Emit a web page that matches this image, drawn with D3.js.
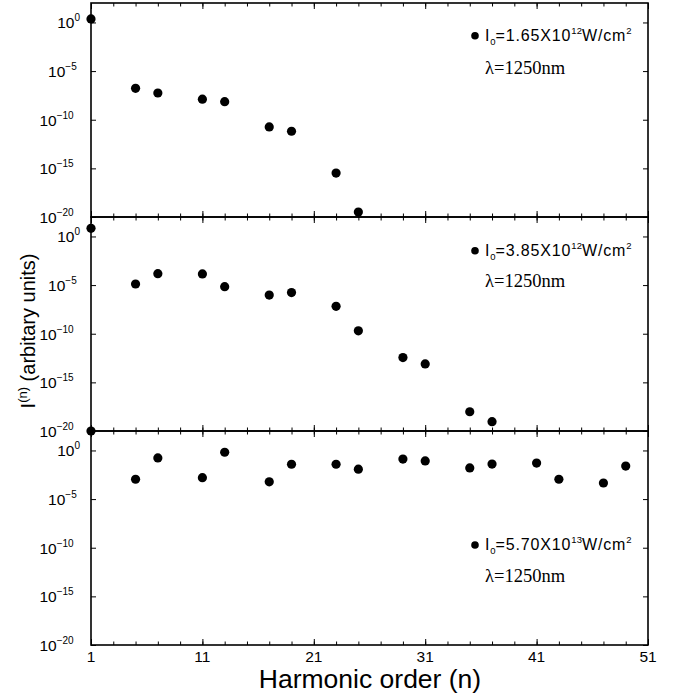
<!DOCTYPE html>
<html>
<head>
<meta charset="utf-8">
<script src="https://cdn.jsdelivr.net/npm/d3@7/dist/d3.min.js"></script>
<style>
  html, body { margin: 0; padding: 0; background: #fff; }
  svg { display: block; }
  text { font-family: "Liberation Sans", Arial, Helvetica, sans-serif; fill: #000; }
</style>
</head>
<body>
<svg id="chart" width="678" height="698"></svg>
<script>
// ---------- data ----------
const harmonicsA = [1, 5, 7, 11, 13, 17, 19, 23, 25];
const intensityA = [2.3e0, 1.7e-7, 5.6e-8, 1.3e-8, 7.2e-9, 1.8e-11, 6.5e-12, 3.3e-16, 3.2e-20];

const harmonicsB = [1, 5, 7, 11, 13, 17, 19, 23, 25, 29, 31, 35, 37];
const intensityB = [6.9e0, 1.3e-5, 1.5e-4, 1.4e-4, 6.9e-6, 9.5e-7, 1.7e-6, 6.6e-8, 2.0e-10, 3.5e-13, 7.8e-14, 9.5e-19, 9.1e-20];

const harmonicsC = [1, 5, 7, 11, 13, 17, 19, 23, 25, 29, 31, 35, 37, 41, 43, 47, 49];
const intensityC = [1e2, 1.1e-3, 1.7e-1, 1.6e-3, 6.5e-1, 6.0e-4, 3.8e-2, 3.8e-2, 1.2e-2, 1.3e-1, 8.3e-2, 1.6e-2, 4.0e-2, 5.1e-2, 1.1e-3, 4.5e-4, 2.5e-2];

const peakIntensity = ["1.65", "3.85", "5.70"];
const peakExponent = ["12", "12", "13"];
const wavelengthLabel = "λ=1250nm";

const xMajorTicks = [1, 11, 21, 31, 41, 51];
const xMinorTicks = d3.range(1, 52, 2);
const yTickValues = [1e0, 1e-5, 1e-10, 1e-15, 1e-20];
const yTickExponents = ["0", "−5", "−10", "−15", "−20"];

const xTitle = "Harmonic order (n)";
const yTitleMain = "I";
const yTitleSup = "(n)";
const yTitleRest = " (arbitary units)";

// ---------- layout ----------
const svg = d3.select("#chart");
const left = 91, right = 648;
const panelTop = 3, panelH = 214;
const x = d3.scaleLinear().domain([1, 51]).range([left, right]);

const panels = [
  { n: harmonicsA, v: intensityA },
  { n: harmonicsB, v: intensityB },
  { n: harmonicsC, v: intensityC }
];

// measuring helper
const meas = svg.append("text").attr("font-size", 15).attr("opacity", 0);
function textW(s, size) {
  meas.attr("font-size", size).text(s);
  return meas.node().getComputedTextLength();
}

panels.forEach((p, i) => {
  const top = panelTop + i * panelH;
  const bottom = top + panelH;
  const y = d3.scaleLog().domain([1e-20, 1e2]).range([bottom, top]);
  const g = svg.append("g");

  // ticks (inward)
  const tickStyle = sel => {
    sel.select(".domain").remove();
    sel.selectAll("text").remove();
    sel.selectAll("line").attr("stroke", "#000").attr("stroke-width", 1);
  };
  g.append("g").attr("transform", `translate(0,${bottom})`)
    .call(d3.axisTop(x).tickValues(xMinorTicks).tickSize(3.5)).call(tickStyle);
  g.append("g").attr("transform", `translate(0,${bottom})`)
    .call(d3.axisTop(x).tickValues(xMajorTicks).tickSize(6)).call(tickStyle);
  g.append("g").attr("transform", `translate(0,${top})`)
    .call(d3.axisBottom(x).tickValues(xMinorTicks).tickSize(3.5)).call(tickStyle);
  g.append("g").attr("transform", `translate(0,${top})`)
    .call(d3.axisBottom(x).tickValues(xMajorTicks).tickSize(6)).call(tickStyle);
  g.append("g").attr("transform", `translate(${left},0)`)
    .call(d3.axisRight(y).tickValues(yTickValues).tickSize(5)).call(tickStyle);
  g.append("g").attr("transform", `translate(${right},0)`)
    .call(d3.axisLeft(y).tickValues(yTickValues).tickSize(5)).call(tickStyle);

  // frame
  g.append("rect").attr("x", left).attr("y", top)
    .attr("width", right - left).attr("height", panelH)
    .attr("fill", "none").attr("stroke", "#000").attr("stroke-width", 1.6);

  // y tick labels: right edge as if exponent were full size
  yTickValues.forEach((v, k) => {
    const full = textW("10" + yTickExponents[k], 15.5);
    const t = g.append("text").attr("x", 83 - full).attr("y", y(v) + 6)
      .attr("font-size", 15.5);
    t.append("tspan").text("10");
    t.append("tspan").attr("dy", -7).attr("font-size", 10).text(yTickExponents[k]);
  });

  // points
  g.selectAll("circle.pt").data(p.n.map((n, k) => ({ n, v: p.v[k] })))
    .join("circle").attr("class", "pt")
    .attr("cx", d => x(d.n)).attr("cy", d => y(d.v))
    .attr("r", 4.6).attr("fill", "#000");

  // legend
  const legY = [40.7, 255.7, 550][i];
  const lamY = [74, 287.3, 581.7][i];
  g.append("circle").attr("cx", 475).attr("cy", legY - 5).attr("r", 3.8).attr("fill", "#000");
  const lt = g.append("text").attr("x", 485).attr("y", legY)
    .attr("font-size", 16).attr("letter-spacing", 0.85);
  lt.append("tspan").text("I");
  lt.append("tspan").attr("dy", 4).attr("font-size", 9.5).attr("letter-spacing", 0).text("0");
  lt.append("tspan").attr("dy", -4).text("=" + peakIntensity[i] + "X10");
  lt.append("tspan").attr("dy", -7).attr("font-size", 9.5).attr("letter-spacing", 0).text(peakExponent[i]);
  lt.append("tspan").attr("dy", 7).text("W/cm");
  lt.append("tspan").attr("dy", -7).attr("font-size", 9.5).text("2");
  g.append("text").attr("x", 485).attr("y", lamY)
    .attr("font-size", 18.5).style("font-family", "'Liberation Serif', 'Times New Roman', serif")
    .text(wavelengthLabel);
});

// x tick labels
svg.selectAll("text.xl").data(xMajorTicks).join("text").attr("class", "xl")
  .attr("x", d => x(d)).attr("y", 662).attr("text-anchor", "middle")
  .attr("font-size", 15.5).text(d => d);

// x title
svg.append("text").attr("x", 370).attr("y", 688).attr("text-anchor", "middle")
  .attr("font-size", 26.5).text(xTitle);

// y title
const yt = svg.append("text").attr("transform", "translate(35,331) rotate(-90)")
  .attr("text-anchor", "middle").attr("font-size", 20);
yt.append("tspan").text(yTitleMain);
yt.append("tspan").attr("dy", -8).attr("font-size", 13).text(yTitleSup);
yt.append("tspan").attr("dy", 8).text(yTitleRest);

meas.remove();
</script>
</body>
</html>
